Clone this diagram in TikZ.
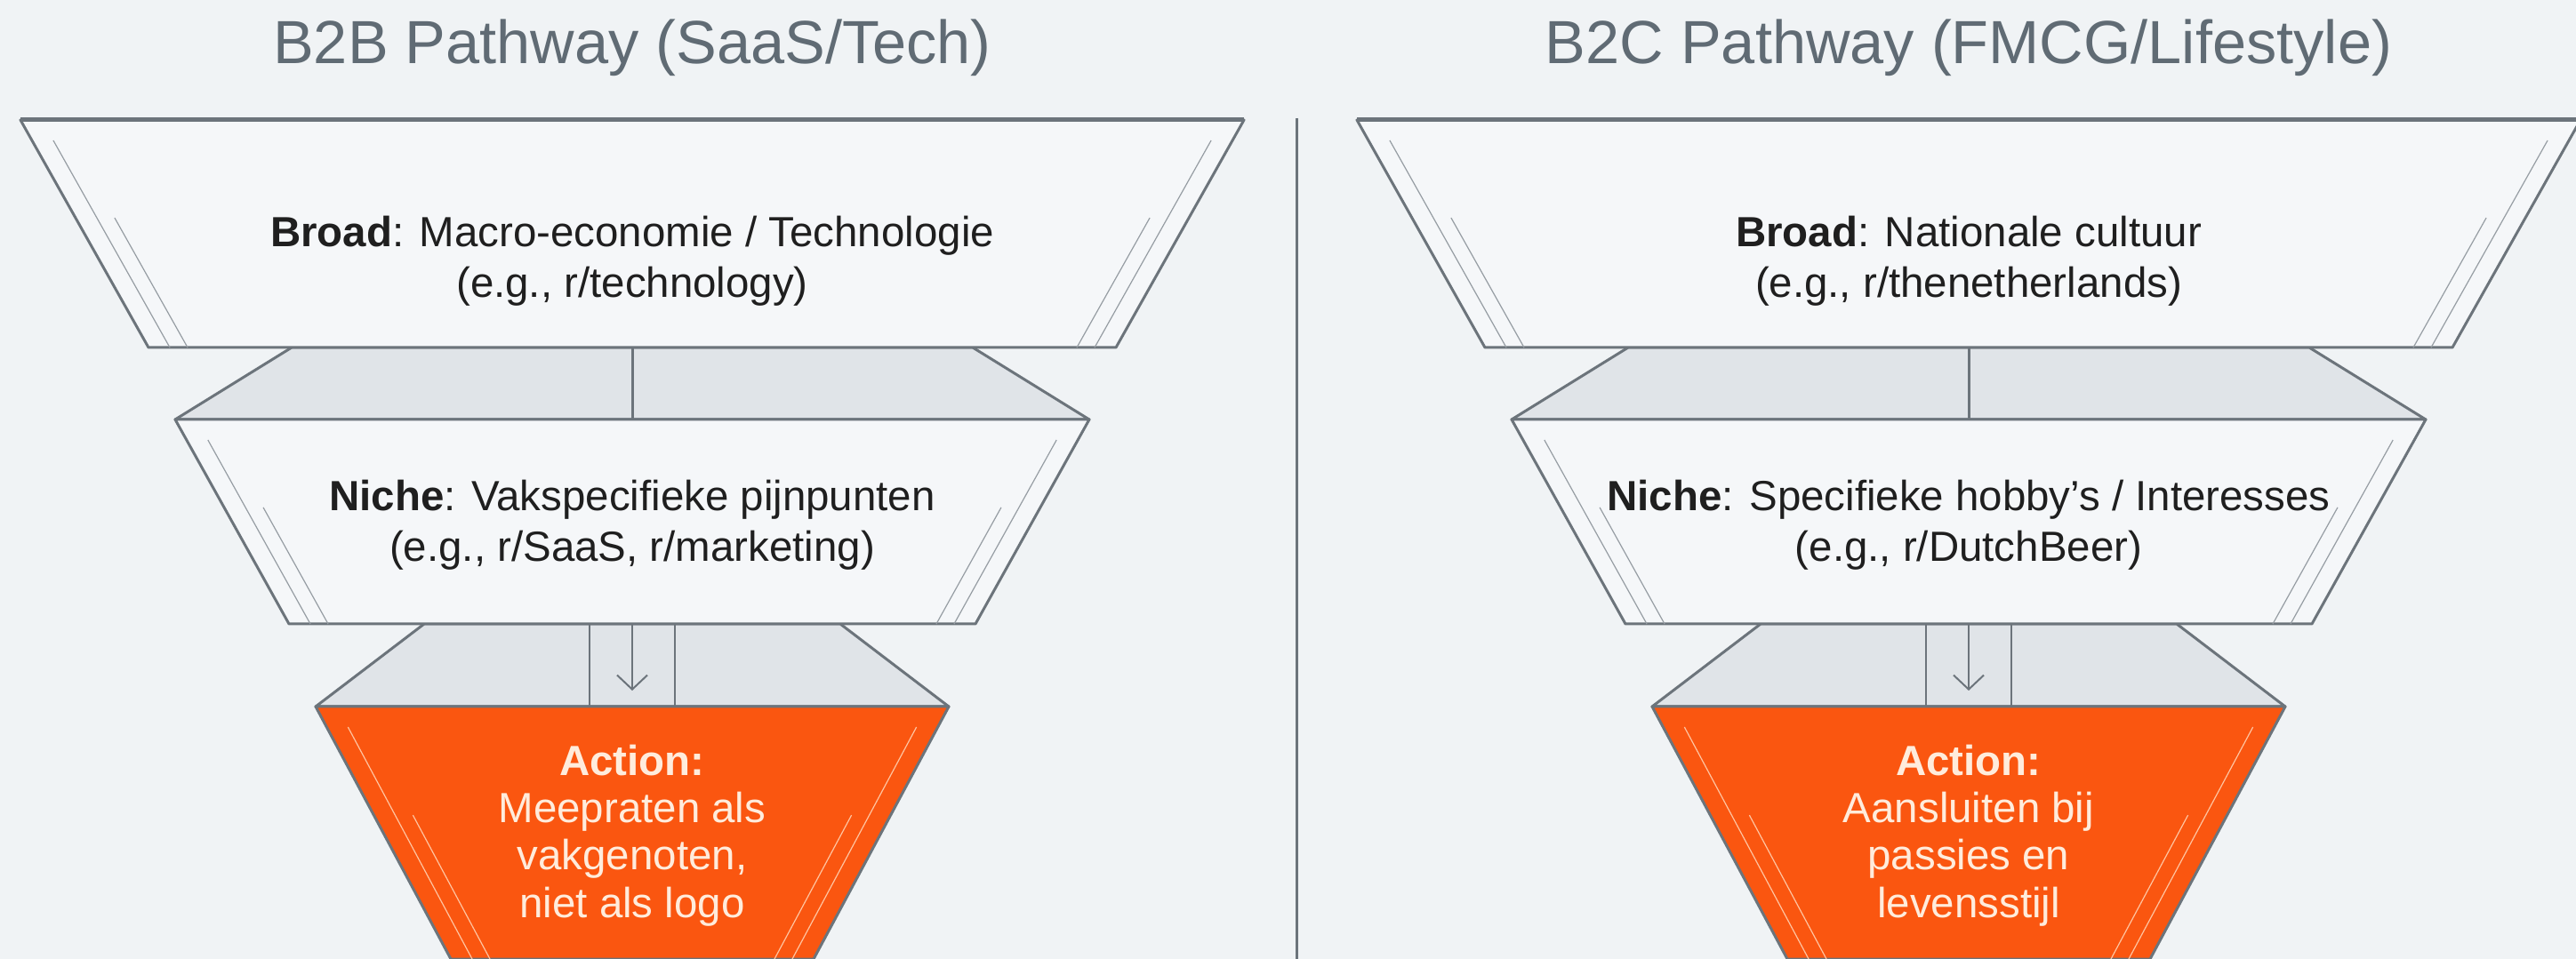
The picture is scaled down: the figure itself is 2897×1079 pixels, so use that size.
\documentclass[tikz,border=0pt]{standalone}
\usepackage{fontspec}
\setmainfont{Liberation Sans}
\usepackage{xcolor}
\usepackage{tikz}
\usetikzlibrary{positioning,calc,arrows.meta}
\definecolor{PageBg}{RGB}{240,243,245}
\definecolor{BoxFill}{RGB}{245,247,249}
\definecolor{NeckFill}{RGB}{224,228,232}
\definecolor{EdgeGray}{RGB}{108,116,123}
\definecolor{GlassGray}{RGB}{150,157,163}
\definecolor{TitleGray}{RGB}{96,107,116}
\definecolor{ActOrange}{RGB}{250,86,16}
\definecolor{ActText}{RGB}{255,236,220}
\definecolor{GlassOrange}{RGB}{255,196,160}

\begin{document}
\begin{tikzpicture}[x=0.1mm, y=-0.1mm,
		edge/.style={draw=EdgeGray, line width=0.3mm, line join=round},
		box/.style={edge, fill=BoxFill},
		neck/.style={edge, fill=NeckFill},
		actbox/.style={edge, fill=ActOrange},
		glass/.style={draw=GlassGray, line width=0.12mm},
		glassact/.style={draw=GlassOrange, line width=0.12mm},
		ttl/.style={font=\fontsize{19.5}{23}\selectfont, text=TitleGray},
		txt/.style={font=\fontsize{13.5}{16.2}\selectfont, align=center, text=black!88},
		acttxt/.style={font=\fontsize{13.5}{15.2}\selectfont, align=center, text=ActText},
		arr/.style={-{Straight Barb[length=1.6mm,width=3.4mm]}, draw=EdgeGray, line width=0.2mm}
		]
		
		\fill[PageBg] (0,0) rectangle (2897,1079);
		\useasboundingbox (0,0) rectangle (2897,1079);
		
		% ===== scheidingslijn =====
		\draw[EdgeGray, line width=0.3mm] (1458,133) -- (1458,1079);
		
		% ===== twee trechters =====
		\foreach \cx [count=\i] in {711,2214}{
			% hals tussen de lagen
			\draw[neck] ({\cx-383},391) -- ({\cx+383},391) -- ({\cx+514},472) -- ({\cx-514},472) -- cycle;
			\draw[edge] (\cx,391) -- (\cx,472);
			\draw[neck] ({\cx-234},702) -- ({\cx+234},702) -- ({\cx+356},795) -- ({\cx-356},795) -- cycle;
			\draw[edge, line width=0.2mm] ({\cx-48},702) -- ({\cx-48},795);
			\draw[edge, line width=0.2mm] ({\cx+48},702) -- ({\cx+48},795);
			
			% lagen
			\draw[box] ({\cx-688},135) -- ({\cx+688},135) -- ({\cx+544},391) -- ({\cx-544},391) -- cycle;
			\draw[EdgeGray, line width=0.5mm] ({\cx-688},135) -- ({\cx+688},135);
			\draw[box] ({\cx-514},472) -- ({\cx+514},472) -- ({\cx+386},702) -- ({\cx-386},702) -- cycle;
			\draw[actbox] ({\cx-356},795) -- ({\cx+356},795) -- ({\cx+204},1079) -- ({\cx-204},1079) -- cycle;
			
			% glaslijnen
			\foreach \yt/\yb/\wt/\wb/\gl in {135/391/688/544/glass, 472/702/514/386/glass, 795/1079/356/204/glassact}{
				\pgfmathsetmacro{\s}{(\wt-\wb)/(\yb-\yt)}
				\pgfmathsetmacro{\ym}{\yt+0.43*(\yb-\yt)}
				\draw[\gl] ({\cx-\wt+\s*23+24},{\yt+23}) -- ({\cx-\wb+24},\yb);
				\draw[\gl] ({\cx-\wt+\s*(\ym-\yt)+44},\ym) -- ({\cx-\wb+44},\yb);
				\draw[\gl] ({\cx+\wt-\s*23-24},{\yt+23}) -- ({\cx+\wb-24},\yb);
				\draw[\gl] ({\cx+\wt-\s*(\ym-\yt)-44},\ym) -- ({\cx+\wb-44},\yb);
			}
			
			% pijl naar actie
			\coordinate (from\i) at (\cx,702);
			\coordinate (to\i) at (\cx,777);
			\draw[arr] (from\i) -- (to\i);
		}
		
		% ===== B2B =====
		\node[ttl] (ttlB2B) at (711,54) {B2B Pathway (SaaS/Tech)};
		\node[txt] (broadB2B) at (711,294) {\textbf{Broad}: Macro-economie / Technologie\\(e.g., r/technology)};
		\node[txt] (nicheB2B) at (711,591) {\textbf{Niche}: Vakspecifieke pijnpunten\\(e.g., r/SaaS, r/marketing)};
		\node[acttxt] (actB2B) at (711,940) {\textbf{Action:}\\Meepraten als\\vakgenoten,\\niet als logo};
		
		% ===== B2C =====
		\node[ttl] (ttlB2C) at (2214,54) {B2C Pathway (FMCG/Lifestyle)};
		\node[txt] (broadB2C) at (2214,294) {\textbf{Broad}: Nationale cultuur\\(e.g., r/thenetherlands)};
		\node[txt] (nicheB2C) at (2214,591) {\textbf{Niche}: Specifieke hobby’s / Interesses\\(e.g., r/DutchBeer)};
		\node[acttxt] (actB2C) at (2214,940) {\textbf{Action:}\\Aansluiten bij\\passies en\\levensstijl};
		
	\end{tikzpicture}
\end{document}
